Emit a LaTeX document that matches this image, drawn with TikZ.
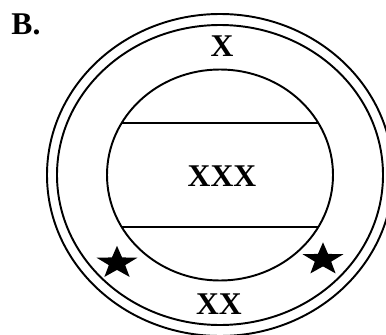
\documentclass[tikz,border=0pt]{standalone}
\usepackage{fontspec}
\setmainfont{Liberation Serif}
\usetikzlibrary{calc,shapes.geometric}

\begin{document}
\begin{tikzpicture}[x=0.02cm,y=-0.02cm,line width=1.1pt,
  every node/.style={font=\fontsize{18}{20}\selectfont\bfseries},
  spot/.style={star,star points=5,star point ratio=2.5,fill=black,inner sep=0pt,minimum size=0.86cm,yscale=0.8}]
\useasboundingbox (0,0) rectangle (386,335);
\clip (0,0) rectangle (386,335);
\coordinate (O) at (220,175);
% rings
\draw (O) ellipse [x radius=173,y radius=161];
\draw (O) ellipse [x radius=163,y radius=150];
\draw (O) ellipse [x radius=113,y radius=105.5];
% band across the middle
\draw ($(O)+(209.5:113 and 105.5)$) -- ($(O)+(-29.5:113 and 105.5)$);
\draw ($(O)+(150.5:113 and 105.5)$) -- ($(O)+(29.5:113 and 105.5)$);
\node (B) at (26,24) {B.};
\node (top) at (222,46) {X};
\node (mid) at (222,176) {XXX};
\node (low) at (219,304) {XX};
\node[spot] (s1) at (117,263) {};
\node[spot] (s2) at (323,259.5) {};
\end{tikzpicture}
\end{document}
